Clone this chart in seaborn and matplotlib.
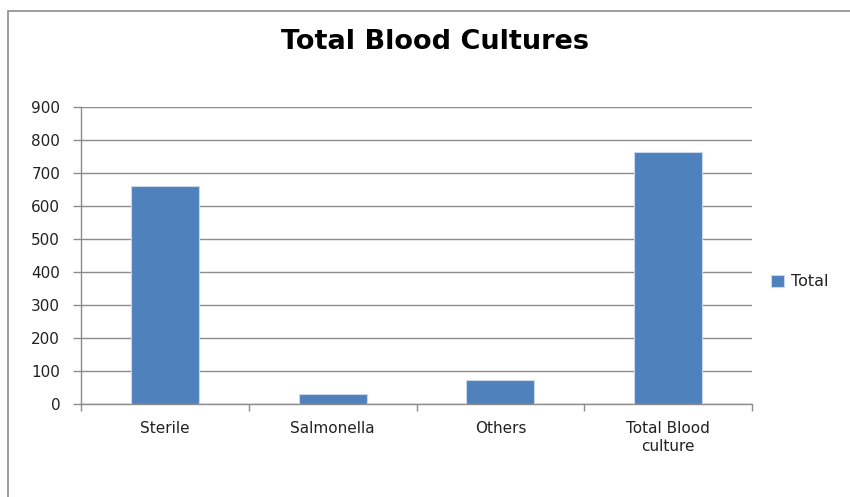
import matplotlib
matplotlib.use("Agg")
import matplotlib.pyplot as plt
import seaborn as sns
import pandas as pd
from matplotlib.patches import Rectangle

categories = ["Sterile", "Salmonella", "Others", "Total Blood\nculture"]
values = [660, 31, 72, 763]
series_name = "Total"
yticks = [0, 100, 200, 300, 400, 500, 600, 700, 800, 900]

sns.set_theme(style="white")
plt.rcParams['font.family'] = ['DejaVu Sans']

df = pd.DataFrame({"Category": categories, "Value": values, "Series": [series_name] * len(categories)})

fig = plt.figure(figsize=(8.5, 4.97), dpi=100)
ax = fig.add_axes([81/850, 1-404/497, (752-81)/850, (404-107)/497])

sns.barplot(data=df, x="Category", y="Value", hue="Series", palette=["#4F81BD"], saturation=1,
            width=0.405, dodge=False, ax=ax, edgecolor="#c9d7ea", linewidth=0.8, zorder=3)

ax.set_ylim(0, 900)
ax.set_xlim(-0.5, 3.5)
ax.set_yticks(yticks)
ax.set_yticklabels([str(t) for t in yticks], fontsize=11, color="#222222")
ax.yaxis.grid(True, color="#8c8c8c", linewidth=1.0, zorder=0)
ax.set_axisbelow(True)
ax.set_xlabel("")
ax.set_ylabel("")

ax.set_xticks(range(len(categories)))
ax.set_xticklabels(categories, fontsize=11, color="#222222", linespacing=1.3)
ax.set_xticks([-0.5, 0.5, 1.5, 2.5, 3.5], minor=True)
ax.tick_params(axis="x", which="major", length=0, pad=12)
ax.tick_params(axis="x", which="minor", length=5, color="#8c8c8c", width=1, direction="out", bottom=True)
ax.tick_params(axis="y", length=6, color="#8c8c8c", width=1, direction="out", left=True, pad=9)

for side in ["top", "right"]:
    ax.spines[side].set_visible(False)
for side in ["left", "bottom"]:
    ax.spines[side].set_color("#8c8c8c")
    ax.spines[side].set_linewidth(1.0)

leg = ax.legend(loc="center left", bbox_to_anchor=(765/850, 1-282/497), bbox_transform=fig.transFigure,
                frameon=False, fontsize=11.5, handlelength=0.8, handleheight=0.8, handletextpad=0.45,
                borderaxespad=0)
for t in leg.get_texts():
    t.set_color("#222222")

fig.text(435/850, 1-42/497, "Total Blood Cultures", ha="center", va="center",
         fontsize=19.5, fontweight="bold", color="#000000")

fig.patches.append(Rectangle((8/850, -0.1), 1.2, 1.1 - 11/497, transform=fig.transFigure,
                             fill=False, edgecolor="#8c8c8c", linewidth=1.2))

fig.savefig("out.png", dpi=100)
